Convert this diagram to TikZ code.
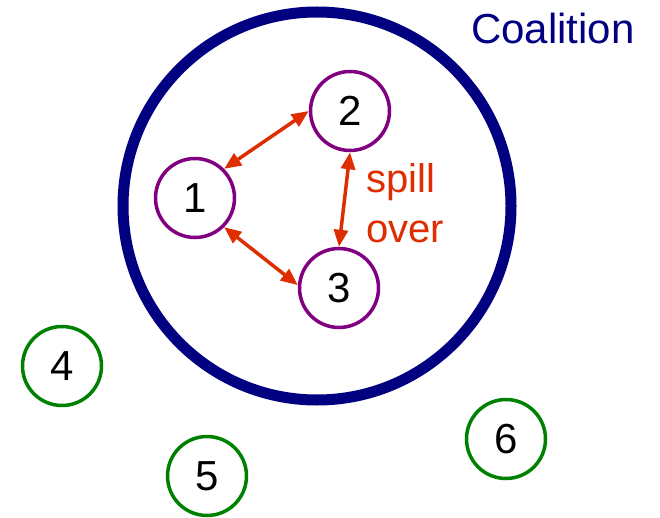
\documentclass[tikz,border=0pt]{standalone}
\usepackage{fontspec}
\setmainfont{Liberation Sans}
\usetikzlibrary{arrows.meta}
\definecolor{navyc}{RGB}{0,0,128}
\definecolor{purplec}{RGB}{128,0,128}
\definecolor{greenc}{RGB}{0,128,0}
\definecolor{redc}{RGB}{222,45,0}
\newcommand{\digitfont}{\fontsize{42}{50}\selectfont}
\begin{document}
\begin{tikzpicture}[x=1pt, y=-1pt,
        member/.style={circle, draw=purplec, line width=3.5pt, minimum size=79pt, inner sep=0pt, font=\digitfont},
        outsider/.style={circle, draw=greenc, line width=3.5pt, minimum size=79pt, inner sep=0pt, font=\digitfont},
        spill/.style={{Triangle[length=17pt,width=14pt]}-{Triangle[length=17pt,width=14pt]}, draw=redc, line width=3.5pt}]
        \useasboundingbox (0, 0) rectangle (660, 518);
        \draw[navyc, line width=11pt] (317, 206) circle (194);
        \node[anchor=base west, text=navyc, font=\fontsize{42}{50}\selectfont, inner sep=0pt] (C) at (471, 44) {Coalition};
        \node[member] (P1) at (195, 198) {1}; \node[member] (P2) at (350, 111) {2};
        \node[member] (P3) at (339, 288) {3};
        \node[outsider] (P4) at (62, 366) {4}; \node[outsider] (P5) at (207, 476) {5};
        \node[outsider] (P6) at (506, 439) {6};
        \draw[spill] (P1.45) to (P2.180);
        \draw[spill] (P1.-45) to (P3.176);
        \draw[spill] (P2.south) to (P3.north);
        \node[anchor=west, align=left, text=redc, font=\fontsize{40}{50}\selectfont, inner sep=0pt] (S) at (366, 203.5) {spill\\over};
    \end{tikzpicture}
\end{document}
